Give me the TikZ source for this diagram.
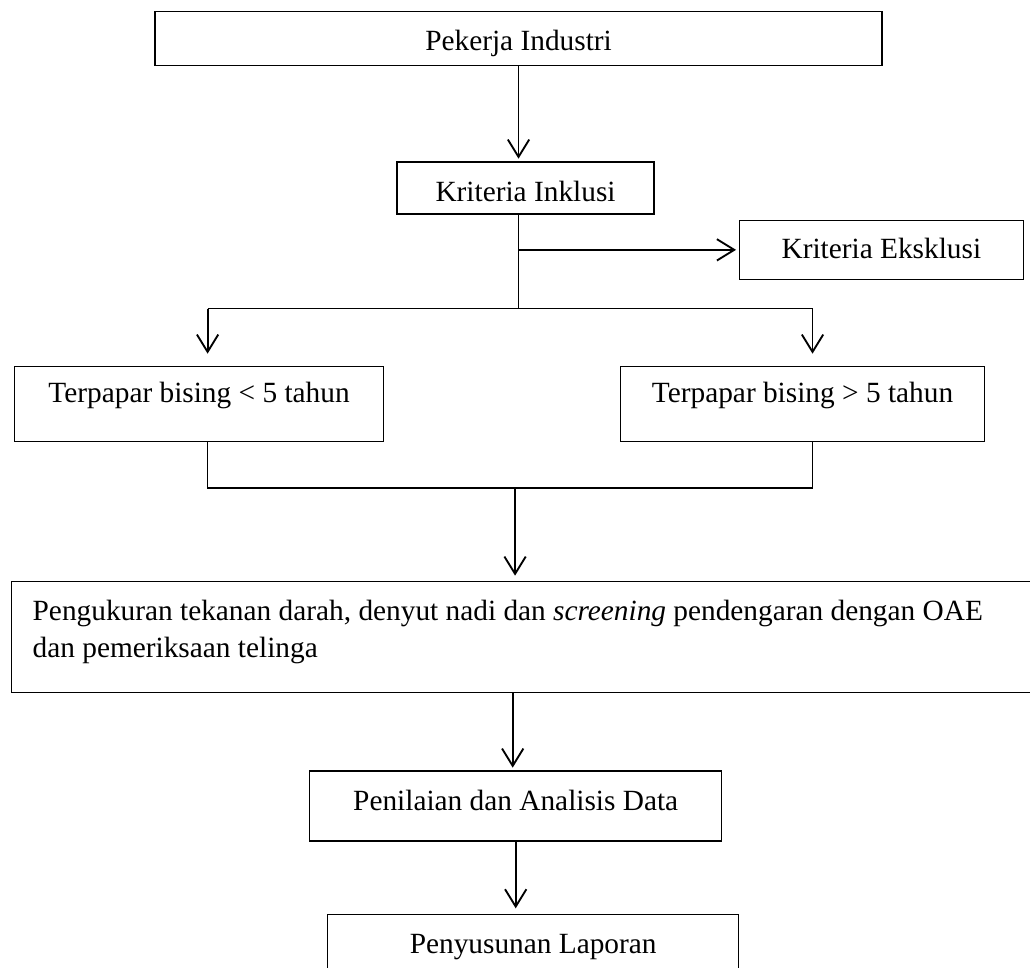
\documentclass[tikz,border=0pt]{standalone}
\usepackage{fontspec}
\setmainfont{Liberation Serif}
\usetikzlibrary{positioning,arrows.meta}

\tikzset{
  kotak/.style={draw, line width=1pt, inner sep=0pt},
  garis/.style={line width=0.8pt},
  panah/.style={->, line width=1.4pt, shorten >=2pt},
}

\begin{document}
\begin{tikzpicture}[>={Straight Barb[length=13pt,width=16pt]}, font=\fontsize{22}{27.75}\selectfont]
  \useasboundingbox (0,0) rectangle (772.5pt,-725.25pt);

  \node[kotak, anchor=north, minimum width=545.25pt, text height=29.25pt, text depth=11.25pt] (pekerja) at (388.9pt,-8.25pt) {Pekerja Industri};
  \node[kotak, minimum width=192.75pt, text height=29.25pt, text depth=9.75pt] [below=71.25pt of pekerja, xshift=5.25pt] (inklusi) {Kriteria Inklusi};
  \node[kotak, minimum width=213pt, text height=28.5pt, text depth=15.75pt] [below right=3.75pt and 63pt of inklusi] (eksklusi) {Kriteria Eksklusi};

  \coordinate (atas) at (pekerja.south |- inklusi.south);
  \coordinate [below=70.5pt of atas] (cabang);

  \node[kotak, minimum width=276.75pt, text height=27pt, text depth=29.25pt] [below=42.75pt of cabang, xshift=-239.6pt] (kurang) {Terpapar bising < 5 tahun};
  \node[kotak, minimum width=273pt, text height=27pt, text depth=29.25pt] [below=42.75pt of cabang, xshift=213pt] (lebih) {Terpapar bising > 5 tahun};

  \coordinate (kiri) at ([xshift=6.4pt]kurang.north |- cabang);
  \coordinate (kanan) at ([xshift=7.5pt]lebih.north |- cabang);
  \coordinate (kirib) at (kiri |- kurang.south);
  \coordinate [below=34.5pt of kirib] (gabung);
  \coordinate (tengah) at ([xshift=-2.6pt]atas |- gabung);

  \node[kotak, anchor=north west, text width=735.75pt, align=flush left, inner xsep=15.75pt, minimum height=83.25pt] (ukur) at (8.25pt,-435.75pt) {Pengukuran tekanan darah, denyut nadi dan \textit{screening} pendengaran dengan OAE\\ dan pemeriksaan telinga\rule[-12pt]{0pt}{1pt}};
  \node[kotak, minimum width=309pt, text height=29.25pt, text depth=23.25pt] [below=57.75pt of ukur, xshift=-5.6pt] (penilaian) {Penilaian dan Analisis Data};
  \node[kotak, minimum width=308.25pt, text height=29.25pt, text depth=15pt] [below=54pt of penilaian, xshift=13.1pt] (laporan) {Penyusunan Laporan};

  \draw[panah] (pekerja.south) -- (pekerja.south |- inklusi.north);
  \draw[garis] (atas) -- (cabang);
  \draw[panah] (atas |- eksklusi.west) -- (eksklusi.west);
  \draw[garis] (kiri) -- (kanan);
  \draw[panah, shorten >=9pt] (kiri) -- (kiri |- kurang.north);
  \draw[panah, shorten >=9pt] (kanan) -- (kanan |- lebih.north);
  \draw[garis] (kirib) -- (gabung) -| (kanan |- lebih.south);
  \draw[panah, shorten >=4pt] (tengah) -- (tengah |- ukur.north);
  \draw[panah] ([xshift=-2.25pt]penilaian.north |- ukur.south) -- ([xshift=-2.25pt]penilaian.north);
  \draw[panah, shorten >=4pt] (penilaian.south) -- (penilaian.south |- laporan.north);

\end{tikzpicture}
\end{document}
